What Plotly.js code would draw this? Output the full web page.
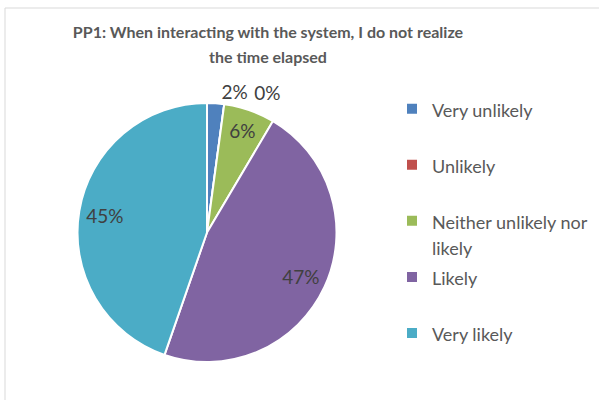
<!DOCTYPE html>
<html>
<head>
<meta charset="utf-8">
<script src="https://cdn.plot.ly/plotly-3.0.1.min.js"></script>
<style>html,body{margin:0;padding:0;background:#fff;}#chart{width:599px;height:400px;}</style>
</head>
<body>
<div id="chart"></div>
<script>
var categories = ["Very unlikely", "Unlikely", "Neither unlikely nor", "Likely", "Very likely"];
var categoryWrap = ["", "", "likely", "", ""];
var responses = [1, 0, 3, 22, 21];
var sliceColors = ["#4F81BD", "#C0504D", "#9BBB59", "#8064A2", "#4BACC6"];
var chartTitleLines = ["PP1: When interacting with the system, I do not realize", "the time elapsed"];

function styled(s, size) {
  return '<span style="font-size:' + size + 'px">' + s + '</span>';
}
// every legend entry spans two lines so the entries are evenly spaced
var legendLabels = categories.map(function (c, i) {
  return styled(c, 18) + "<br>" + (categoryWrap[i] ? styled(categoryWrap[i], 18) : "\u00a0");
});

var pieDomain = { x: [77 / 599, 337 / 599], y: [38 / 400, 297 / 400] };
var labelFont = { family: "Lato, sans-serif", size: 19, color: "#404040" };
var noFill = responses.map(function () { return "rgba(0,0,0,0)"; });
var gap = "\u00a0\u00a0\u00a0\u00a0\u00a0";

// full pie: the coloured slices, the legend and the first small-slice label
var pieTrace = {
  type: "pie",
  labels: legendLabels,
  values: responses,
  sort: false,
  direction: "clockwise",
  rotation: 0,
  marker: { colors: sliceColors, line: { color: "#ffffff", width: 2 } },
  texttemplate: responses.map(function (v, i) { return i === 0 ? "%{percent:.0%}" : ""; }),
  textposition: "outside",
  outsidetextfont: labelFont,
  textfont: labelFont,
  domain: pieDomain,
  hoverinfo: "label+percent",
  showlegend: true
};

// transparent outer ring of the same slices, carrying the other percentage labels near the rim
var labelTrace = {
  type: "pie",
  labels: legendLabels,
  values: responses,
  sort: false,
  direction: "clockwise",
  rotation: 0,
  hole: 0.6,
  marker: { colors: noFill, line: { width: 0 } },
  texttemplate: responses.map(function (v, i) {
    return i === 0 ? "" : (i === 1 ? gap + "%{percent:.0%}" : "%{percent:.0%}");
  }),
  textposition: ["inside", "outside", "inside", "inside", "inside"],
  insidetextorientation: "horizontal",
  textfont: labelFont,
  outsidetextfont: labelFont,
  domain: pieDomain,
  hoverinfo: "skip",
  showlegend: false
};

var layout = {
  width: 599,
  height: 400,
  margin: { l: 0, r: 0, t: 0, b: 0 },
  paper_bgcolor: "#ffffff",
  title: {
    text: chartTitleLines.map(function (l) { return "<b>" + styled(l, 16) + "</b>"; }).join("<br>"),
    x: 268 / 599,
    xanchor: "center",
    y: 1 - 38 / 400,
    yanchor: "top",
    font: { family: "Lato, sans-serif", size: 19, color: "#595959" }
  },
  legend: {
    x: 392 / 599,
    xanchor: "left",
    y: 1 - 89 / 400,
    yanchor: "top",
    valign: "top",
    font: { family: "Lato, sans-serif", size: 20.4, color: "#595959" },
    bgcolor: "rgba(0,0,0,0)"
  },
  shapes: [{
    type: "rect", xref: "paper", yref: "paper",
    x0: 5 / 599, x1: 1.05, y0: -0.05, y1: 1 - 8 / 400,
    line: { color: "#d9d9d9", width: 1 }, fillcolor: "rgba(0,0,0,0)", layer: "below"
  }]
};

Plotly.newPlot("chart", [pieTrace, labelTrace], layout, { displayModeBar: false, staticPlot: true });
</script>
</body>
</html>
